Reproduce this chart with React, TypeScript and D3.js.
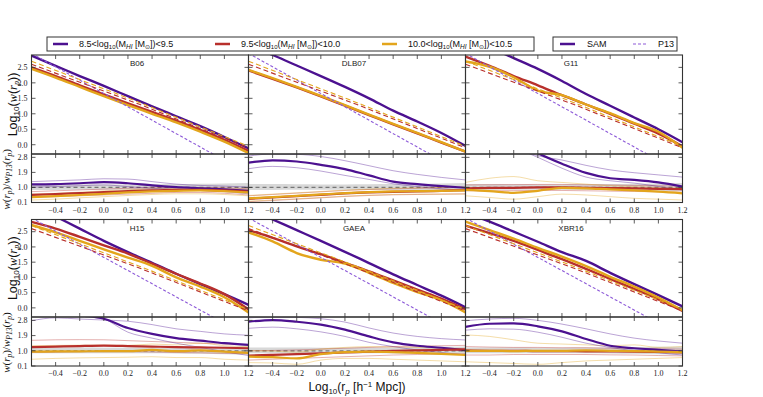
import * as d3 from "d3";

// sample positions in log10(r_p)
const XS = [-0.6, -0.4, -0.2, 0.0, 0.2, 0.4, 0.6, 0.8, 1.0, 1.2];
const X_TICKS = [-0.6, -0.4, -0.2, 0.0, 0.2, 0.4, 0.6, 0.8, 1.0, 1.2];
const X_LABELS = [-0.4, -0.2, 0.0, 0.2, 0.4, 0.6, 0.8, 1.0, 1.2];
const LOGW_TICKS = [0.0, 0.5, 1.0, 1.5, 2.0, 2.5];
const RATIO_TICKS = [0.1, 1.0, 1.9, 2.8];

const BIN_LO = ["8.5", "9.5", "10.0"];
const BIN_HI = ["9.5", "10.0", "10.5"];
const BIN_COLORS = ["#4c1190", "#b8302c", "#e3a51c"];

// P13 power-law fits (one per mass bin)
const P13_X = [-0.6, 0.3, 1.2];
const P13_LOW = [2.95, 1.01, -0.94];
const P13_MID = [2.6, 1.3, -0.1];
const P13_HIGH = [2.7, 1.36, -0.05];

// shaded P13 uncertainty in the ratio panels
const BAND_LO = [0.85, 0.85, 0.86, 0.86, 0.86, 0.85, 0.84, 0.82, 0.8, 0.78];
const BAND_HI = [1.2, 1.2, 1.19, 1.18, 1.18, 1.19, 1.2, 1.22, 1.24, 1.26];

// log10 w(r_p): purple, red, orange
const B06_LOGW = [
  [2.88, 2.55, 2.22, 1.9, 1.57, 1.24, 0.92, 0.6, 0.25, -0.12],
  [2.5, 2.22, 1.92, 1.63, 1.34, 1.06, 0.78, 0.48, 0.16, -0.2],
  [2.45, 2.17, 1.87, 1.57, 1.28, 1.0, 0.72, 0.42, 0.1, -0.27],
];
const DLB07_LOGW = [
  [3.22, 2.9, 2.56, 2.22, 1.87, 1.5, 1.1, 0.75, 0.38, -0.04],
  [2.4, 2.13, 1.85, 1.56, 1.26, 0.96, 0.66, 0.37, 0.07, -0.22],
  [2.42, 2.15, 1.87, 1.58, 1.28, 0.97, 0.67, 0.38, 0.08, -0.22],
];
const G11_LOGW = [
  [3.5, 3.15, 2.8, 2.45, 2.06, 1.64, 1.26, 0.88, 0.5, 0.08],
  [2.85, 2.55, 2.22, 1.92, 1.6, 1.3, 1.0, 0.68, 0.36, -0.05],
  [2.69, 2.52, 2.18, 1.75, 1.6, 1.3, 1.02, 0.7, 0.42, -0.1],
];
const H15_LOGW = [
  [3.4, 3.0, 2.6, 2.2, 1.83, 1.48, 1.12, 0.78, 0.45, 0.1],
  [2.82, 2.6, 2.33, 2.05, 1.78, 1.45, 1.12, 0.8, 0.45, -0.05],
  [2.72, 2.48, 2.2, 1.92, 1.65, 1.38, 1.0, 0.7, 0.35, -0.15],
];
const GAEA_LOGW = [
  [3.25, 2.9, 2.55, 2.2, 1.84, 1.47, 1.1, 0.75, 0.4, 0.02],
  [2.55, 2.3, 2.02, 1.76, 1.48, 1.2, 0.9, 0.6, 0.3, -0.05],
  [2.48, 2.18, 1.8, 1.58, 1.45, 1.15, 0.82, 0.52, 0.25, -0.15],
];
const XBR16_LOGW = [
  [3.12, 2.83, 2.5, 2.17, 1.83, 1.54, 1.15, 0.78, 0.42, 0.05],
  [2.7, 2.45, 2.2, 1.9, 1.6, 1.28, 0.95, 0.62, 0.28, -0.1],
  [2.83, 2.55, 2.27, 1.97, 1.68, 1.37, 1.02, 0.7, 0.34, -0.08],
];

// w / w_P13: median and upper/lower bounds
const B06_RATIO = [
  [1.18, 1.2, 1.25, 1.32, 1.25, 1.12, 1.02, 0.95, 0.88, 0.8],
  [0.55, 0.6, 0.66, 0.72, 0.78, 0.82, 0.85, 0.85, 0.82, 0.75],
  [0.42, 0.48, 0.55, 0.62, 0.7, 0.76, 0.8, 0.82, 0.78, 0.7],
];
const B06_UPPER = [
  [1.35, 1.4, 1.45, 1.52, 1.5, 1.35, 1.2, 1.12, 1.08, 1.02],
  [0.75, 0.8, 0.85, 0.9, 0.95, 0.98, 1.0, 1.0, 0.98, 0.92],
  [0.6, 0.65, 0.72, 0.8, 0.86, 0.92, 0.95, 0.96, 0.92, 0.88],
];
const B06_LOWER = [
  [1.02, 1.05, 1.1, 1.15, 1.05, 0.95, 0.88, 0.82, 0.75, 0.62],
  [0.4, 0.45, 0.5, 0.55, 0.6, 0.65, 0.7, 0.7, 0.65, 0.55],
  [0.25, 0.3, 0.38, 0.45, 0.52, 0.58, 0.62, 0.62, 0.58, 0.5],
];
const DLB07_RATIO = [
  [2.48, 2.62, 2.55, 2.35, 2.1, 1.72, 1.35, 1.2, 1.08, 0.98],
  [0.32, 0.4, 0.48, 0.56, 0.64, 0.7, 0.74, 0.76, 0.8, 0.84],
  [0.35, 0.42, 0.5, 0.58, 0.66, 0.72, 0.76, 0.78, 0.8, 0.82],
];
const DLB07_UPPER = [
  [2.88, 3.0, 2.98, 2.85, 2.6, 2.3, 2.0, 1.78, 1.6, 1.45],
  [0.5, 0.58, 0.66, 0.74, 0.82, 0.88, 0.92, 0.95, 0.98, 1.0],
  [0.52, 0.6, 0.68, 0.76, 0.84, 0.9, 0.95, 0.98, 1.0, 1.02],
];
const DLB07_LOWER = [
  [2.12, 2.26, 2.18, 1.98, 1.72, 1.48, 1.22, 1.05, 0.92, 0.82],
  [0.15, 0.22, 0.3, 0.38, 0.46, 0.52, 0.56, 0.58, 0.6, 0.62],
  [0.18, 0.25, 0.32, 0.4, 0.48, 0.54, 0.58, 0.6, 0.6, 0.6],
];
const G11_RATIO = [
  [5.0, 4.4, 3.8, 3.05, 2.42, 1.87, 1.55, 1.45, 1.3, 1.05],
  [0.95, 0.97, 0.98, 1.0, 1.0, 0.98, 0.96, 0.95, 0.92, 0.9],
  [0.85, 0.78, 0.68, 0.8, 0.98, 0.95, 0.88, 0.82, 0.75, 0.65],
];
const G11_UPPER = [
  [5.0, 4.2, 3.4, 2.9, 2.64, 2.32, 2.05, 1.88, 1.75, 1.62],
  [1.15, 1.16, 1.17, 1.18, 1.18, 1.16, 1.14, 1.12, 1.1, 1.08],
  [1.3, 1.55, 1.65, 1.4, 1.3, 1.2, 1.1, 1.05, 1.0, 0.95],
];
const G11_LOWER = [
  [4.6, 4.0, 3.4, 2.8, 2.15, 1.62, 1.4, 1.26, 1.06, 0.85],
  [0.8, 0.8, 0.81, 0.82, 0.82, 0.8, 0.78, 0.76, 0.74, 0.72],
  [0.5, 0.4, 0.3, 0.45, 0.6, 0.55, 0.45, 0.35, 0.3, 0.25],
];
const H15_RATIO = [
  [3.5, 3.3, 3.1, 2.9, 2.35, 2.0, 1.75, 1.6, 1.45, 1.35],
  [1.22, 1.25, 1.28, 1.3, 1.28, 1.25, 1.22, 1.2, 1.18, 1.15],
  [0.95, 0.96, 0.97, 0.98, 0.98, 1.05, 0.98, 1.02, 0.95, 0.88],
];
const H15_UPPER = [
  [2.78, 2.95, 2.88, 2.82, 2.75, 2.55, 2.3, 2.15, 2.0, 1.92],
  [1.62, 1.65, 1.66, 1.65, 1.6, 1.55, 1.5, 1.45, 1.4, 1.35],
  [1.3, 1.32, 1.33, 1.33, 1.32, 1.4, 1.35, 1.45, 1.3, 1.25],
];
const H15_LOWER = [
  [3.6, 3.4, 3.2, 2.9, 2.1, 1.75, 1.45, 1.2, 0.95, 0.72],
  [0.9, 0.92, 0.95, 0.95, 0.95, 0.93, 0.9, 0.88, 0.85, 0.82],
  [0.5, 0.55, 0.58, 0.6, 0.62, 0.65, 0.6, 0.6, 0.5, 0.45],
];
const GAEA_RATIO = [
  [2.72, 2.82, 2.72, 2.55, 2.25, 1.85, 1.5, 1.3, 1.18, 1.04],
  [0.72, 0.76, 0.8, 0.85, 0.9, 0.95, 1.0, 1.02, 1.05, 1.08],
  [0.65, 0.62, 0.55, 0.8, 0.92, 0.95, 0.92, 0.88, 0.82, 0.75],
];
const GAEA_UPPER = [
  [2.95, 3.0, 2.98, 2.9, 2.7, 2.35, 2.05, 1.85, 1.72, 1.64],
  [1.0, 1.02, 1.05, 1.1, 1.15, 1.2, 1.25, 1.28, 1.3, 1.32],
  [1.0, 0.98, 0.92, 1.1, 1.2, 1.25, 1.22, 1.2, 1.15, 1.1],
];
const GAEA_LOWER = [
  [2.33, 2.4, 2.3, 2.12, 1.85, 1.5, 1.25, 1.05, 0.9, 0.75],
  [0.45, 0.5, 0.55, 0.6, 0.65, 0.7, 0.75, 0.78, 0.8, 0.82],
  [0.3, 0.28, 0.2, 0.45, 0.55, 0.55, 0.5, 0.45, 0.4, 0.35],
];
const XBR16_RATIO = [
  [2.42, 2.6, 2.62, 2.45, 2.15, 1.7, 1.3, 1.15, 1.05, 0.95],
  [1.02, 1.0, 1.0, 0.98, 0.98, 0.97, 0.96, 0.95, 0.93, 0.9],
  [1.0, 1.0, 0.98, 1.0, 1.0, 1.02, 1.0, 0.98, 0.95, 0.92],
];
const XBR16_UPPER = [
  [2.78, 2.88, 2.92, 2.8, 2.58, 2.3, 2.0, 1.75, 1.58, 1.45],
  [1.25, 1.22, 1.2, 1.2, 1.18, 1.18, 1.15, 1.15, 1.12, 1.1],
  [1.94, 1.85, 1.65, 1.45, 1.4, 1.35, 1.3, 1.35, 1.2, 1.25],
];
const XBR16_LOWER = [
  [2.22, 2.3, 2.28, 2.1, 1.8, 1.45, 1.2, 1.0, 0.88, 0.75],
  [0.75, 0.75, 0.78, 0.78, 0.78, 0.78, 0.76, 0.75, 0.72, 0.7],
  [0.35, 0.3, 0.25, 0.2, 0.3, 0.4, 0.45, 0.5, 0.55, 0.6],
];

const PANELS = [
  { name: "B06", logw: B06_LOGW, ratio: B06_RATIO, upper: B06_UPPER, lower: B06_LOWER },
  { name: "DLB07", logw: DLB07_LOGW, ratio: DLB07_RATIO, upper: DLB07_UPPER, lower: DLB07_LOWER },
  { name: "G11", logw: G11_LOGW, ratio: G11_RATIO, upper: G11_UPPER, lower: G11_LOWER },
  { name: "H15", logw: H15_LOGW, ratio: H15_RATIO, upper: H15_UPPER, lower: H15_LOWER },
  { name: "GAEA", logw: GAEA_LOGW, ratio: GAEA_RATIO, upper: GAEA_UPPER, lower: GAEA_LOWER },
  { name: "XBR16", logw: XBR16_LOGW, ratio: XBR16_RATIO, upper: XBR16_UPPER, lower: XBR16_LOWER },
];

const SANS = "Liberation Sans, Arial, sans-serif";
const SERIF = "Liberation Serif, Times New Roman, serif";

export default function App() {
  const width = 763;
  const height = 397;
  const colX = [31.5, 248.5, 465.5];
  const panelW = 217;
  const rows = [
    { top: 55, split: 154, bottom: 202.5 },
    { top: 219.5, split: 317, bottom: 366 },
  ];
  const tick = 4;
  const axisColor = "#333";

  const p13 = [P13_LOW, P13_MID, P13_HIGH];
  const p13Dash = ["3,2", "5,3", "5,3"];
  const p13Colors = ["#8d5ad8", BIN_COLORS[1], BIN_COLORS[2]];

  return (
    <svg
      width={width}
      height={height}
      style={{ position: "absolute", left: 0, top: 0, background: "#fff" }}
    >
      <defs>
        {PANELS.map((p, i) => {
          const col = i % 3;
          const row = rows[Math.floor(i / 3)];
          return (
            <g key={p.name}>
              <clipPath id={`clip-m-${i}`}>
                <rect x={colX[col]} y={row.top} width={panelW} height={row.split - row.top} />
              </clipPath>
              <clipPath id={`clip-r-${i}`}>
                <rect x={colX[col]} y={row.split} width={panelW} height={row.bottom - row.split} />
              </clipPath>
            </g>
          );
        })}
      </defs>

      {PANELS.map((p, i) => {
        const col = i % 3;
        const row = rows[Math.floor(i / 3)];
        const x = d3.scaleLinear().domain([-0.6, 1.2]).range([colX[col], colX[col] + panelW]);
        const ym = d3.scaleLinear().domain([-0.3, 2.9]).range([row.split, row.top]);
        const yr = d3.scaleLinear().domain([0.1, 3.0]).range([row.bottom, row.split]);

        const mainLine = d3
          .line<number>()
          .x((_, k) => x(XS[k]))
          .y((d) => ym(d))
          .curve(d3.curveMonotoneX);
        const p13Line = d3
          .line<number>()
          .x((_, k) => x(P13_X[k]))
          .y((d) => ym(d));
        const ratioLine = d3
          .line<number>()
          .x((_, k) => x(XS[k]))
          .y((d) => yr(d))
          .curve(d3.curveMonotoneX);
        const band = d3
          .area<number>()
          .x((_, k) => x(XS[k]))
          .y0((_, k) => yr(BAND_LO[k]))
          .y1((_, k) => yr(BAND_HI[k]))
          .curve(d3.curveMonotoneX);

        const x0 = colX[col];
        const x1 = colX[col] + panelW;

        return (
          <g key={p.name}>
            {/* main panel */}
            <g clipPath={`url(#clip-m-${i})`}>
              {p.logw.map((s, b) => (
                <path key={b} d={mainLine(s) ?? ""} fill="none" stroke={BIN_COLORS[b]} strokeWidth={2.4} />
              ))}
              {p13.map((s, b) => (
                <path
                  key={b}
                  d={p13Line(s) ?? ""}
                  fill="none"
                  stroke={p13Colors[b]}
                  strokeWidth={1.1}
                  strokeDasharray={p13Dash[b]}
                />
              ))}
            </g>

            {/* ratio panel */}
            <g clipPath={`url(#clip-r-${i})`}>
              <path d={band(XS) ?? ""} fill="#c8c8c8" opacity={0.7} />
              <line
                x1={x0}
                x2={x1}
                y1={yr(1.0)}
                y2={yr(1.0)}
                stroke="#777"
                strokeWidth={1.2}
                strokeDasharray="4,3"
              />
              {p.upper.map((s, b) => (
                <path key={`u${b}`} d={ratioLine(s) ?? ""} fill="none" stroke={BIN_COLORS[b]} strokeWidth={0.7} opacity={0.55} />
              ))}
              {p.lower.map((s, b) => (
                <path key={`l${b}`} d={ratioLine(s) ?? ""} fill="none" stroke={BIN_COLORS[b]} strokeWidth={0.7} opacity={0.55} />
              ))}
              {p.ratio.map((s, b) => (
                <path key={`r${b}`} d={ratioLine(s) ?? ""} fill="none" stroke={BIN_COLORS[b]} strokeWidth={2.2} />
              ))}
            </g>

            {/* ticks */}
            {X_TICKS.map((t) => (
              <g key={t} stroke={axisColor} strokeWidth={0.8}>
                <line x1={x(t)} x2={x(t)} y1={row.top} y2={row.top + tick} />
                <line x1={x(t)} x2={x(t)} y1={row.split} y2={row.split - tick} />
                <line x1={x(t)} x2={x(t)} y1={row.split} y2={row.split + tick} />
                <line x1={x(t)} x2={x(t)} y1={row.bottom} y2={row.bottom - tick} />
              </g>
            ))}
            {LOGW_TICKS.map((t) => (
              <g key={t} stroke={axisColor} strokeWidth={0.8}>
                <line x1={x0} x2={x0 + tick} y1={ym(t)} y2={ym(t)} />
                <line x1={x1} x2={x1 - tick} y1={ym(t)} y2={ym(t)} />
              </g>
            ))}
            {RATIO_TICKS.map((t) => (
              <g key={t} stroke={axisColor} strokeWidth={0.8}>
                <line x1={x0} x2={x0 + tick} y1={yr(t)} y2={yr(t)} />
                <line x1={x1} x2={x1 - tick} y1={yr(t)} y2={yr(t)} />
              </g>
            ))}

            {/* frames */}
            <rect x={x0} y={row.top} width={panelW} height={row.split - row.top} fill="none" stroke={axisColor} strokeWidth={1.1} />
            <rect x={x0} y={row.split} width={panelW} height={row.bottom - row.split} fill="none" stroke={axisColor} strokeWidth={1.1} />

            {/* tick labels */}
            {X_LABELS.map((t) => (
              <text
                key={t}
                x={x(t)}
                y={row.bottom + 10}
                textAnchor="middle"
                fontFamily={SERIF}
                fontSize={8}
                fill="#222"
              >
                {d3.format(".1f")(t).replace("-", "\u2212")}
              </text>
            ))}
            {col === 0 &&
              LOGW_TICKS.map((t) => (
                <text key={t} x={x0 - 4} y={ym(t) + 2.8} textAnchor="end" fontFamily={SERIF} fontSize={8} fill="#222">
                  {t.toFixed(1)}
                </text>
              ))}
            {col === 0 &&
              RATIO_TICKS.map((t) => (
                <text key={t} x={x0 - 4} y={yr(t) + 2.8} textAnchor="end" fontFamily={SERIF} fontSize={8} fill="#222">
                  {t.toFixed(1)}
                </text>
              ))}

            {/* panel title */}
            <text x={x0 + panelW / 2 - 3} y={row.top + 11} textAnchor="middle" fontFamily={SANS} fontSize={8} fill="#222">
              {p.name}
            </text>
          </g>
        );
      })}

      {/* y labels */}
      {rows.map((row, r) => (
        <g key={r}>
          <text
            transform={`translate(17, ${(row.top + row.split) / 2}) rotate(-90)`}
            textAnchor="middle"
            fontFamily={SANS}
            fontSize={12.5}
            fill="#111"
          >
            Log<tspan fontSize={8} dy={2}>10</tspan>
            <tspan dy={-2}>(</tspan>
            <tspan fontFamily={SERIF} fontStyle="italic">w</tspan>
            <tspan>(</tspan>
            <tspan fontFamily={SERIF} fontStyle="italic">r</tspan>
            <tspan fontFamily={SERIF} fontStyle="italic" fontSize={8} dy={2}>p</tspan>
            <tspan dy={-2}>))</tspan>
          </text>
          <text
            transform={`translate(10, ${(row.split + row.bottom) / 2 + 1}) rotate(-90)`}
            textAnchor="middle"
            fontFamily={SERIF}
            fontStyle="italic"
            fontSize={11}
            fill="#111"
          >
            w<tspan fontStyle="normal">(</tspan>r<tspan fontSize={7.5} dy={2}>p</tspan>
            <tspan dy={-2} fontStyle="normal">)/</tspan>w<tspan fontSize={7.5} dy={2}>P13</tspan>
            <tspan dy={-2} fontStyle="normal">(</tspan>r<tspan fontSize={7.5} dy={2}>p</tspan>
            <tspan dy={-2} fontStyle="normal">)</tspan>
          </text>
        </g>
      ))}

      {/* x label */}
      <text x={357} y={391} textAnchor="middle" fontFamily={SANS} fontSize={12} fill="#111">
        Log<tspan fontSize={8} dy={2.5}>10</tspan>
        <tspan dy={-2.5}>(r</tspan>
        <tspan fontSize={8} dy={2.5} fontStyle="italic">p</tspan>
        <tspan dy={-2.5}> [h</tspan>
        <tspan fontSize={8} dy={-4}>{"\u22121"}</tspan>
        <tspan dy={4}> Mpc])</tspan>
      </text>

      {/* legend: mass bins */}
      <rect x={47} y={37} width={487} height={14} fill="#fff" stroke={axisColor} strokeWidth={1} />
      {BIN_LO.map((lo, b) => {
        const lx = [53, 215, 382][b];
        return (
          <g key={lo}>
            <line x1={lx} x2={lx + 15} y1={44} y2={44} stroke={BIN_COLORS[b]} strokeWidth={2.5} />
            <text x={lx + 26} y={47.3} fontFamily={SANS} fontSize={9} fill="#111">
              {lo}
              {"<log"}
              <tspan fontSize={6} dy={1.5}>10</tspan>
              <tspan dy={-1.5}>(M</tspan>
              <tspan fontSize={6.5} dy={1.5} fontStyle="italic">HI</tspan>
              <tspan dy={-1.5}> [M</tspan>
              <tspan fontSize={6} dy={1.5}>{"\u2299"}</tspan>
              <tspan dy={-1.5}>{"])<"}{BIN_HI[b]}</tspan>
            </text>
          </g>
        );
      })}

      {/* legend: line styles */}
      <rect x={553} y={37} width={124} height={14} fill="#fff" stroke={axisColor} strokeWidth={1} />
      <line x1={560} x2={575} y1={44} y2={44} stroke={BIN_COLORS[0]} strokeWidth={2.5} />
      <text x={587} y={47.3} fontFamily={SANS} fontSize={9} fill="#111">
        SAM
      </text>
      <line x1={633} x2={648} y1={44} y2={44} stroke="#8d5ad8" strokeWidth={1.1} strokeDasharray="3,2" />
      <text x={658} y={47.3} fontFamily={SANS} fontSize={9} fill="#111">
        P13
      </text>
    </svg>
  );
}
